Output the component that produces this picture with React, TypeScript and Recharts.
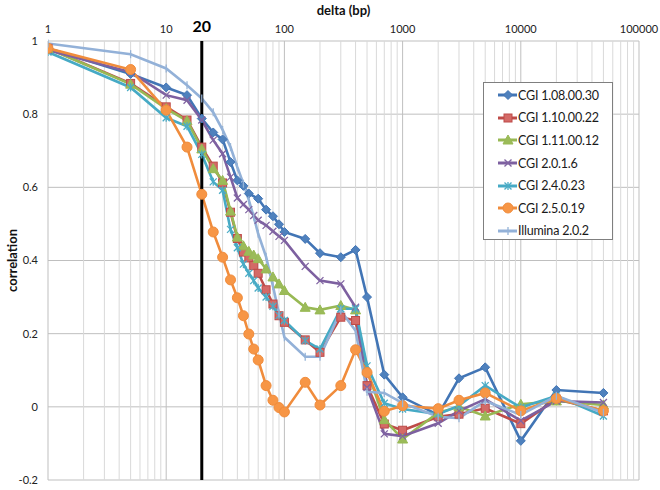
import { LineChart, Line, XAxis, YAxis, CartesianGrid, ReferenceLine, Legend } from "recharts";

const FONT = 'Lato, "Liberation Sans", sans-serif';

// delta (bp)
const deltas = [1, 5, 10, 15, 20, 25, 30, 35, 40, 45, 50, 55, 60, 70, 80, 90, 100, 150, 200, 300, 400, 500, 700, 1000, 2000, 3000, 5000, 10000, 20000, 50000];

const cgi10800 = [0.98, 0.91, 0.873, 0.852, 0.788, 0.75, 0.731, 0.669, 0.619, 0.604, 0.583, null, 0.569, 0.539, 0.521, 0.499, 0.478, 0.459, 0.42, 0.409, 0.429, 0.3, 0.088, 0.026, -0.022, 0.078, 0.108, -0.093, 0.046, 0.038];
const cgi11000 = [0.98, 0.884, 0.82, 0.784, 0.71, 0.658, 0.612, 0.532, 0.46, 0.423, 0.407, 0.386, 0.365, 0.32, 0.281, 0.249, 0.231, 0.183, 0.149, 0.245, 0.236, 0.058, -0.047, -0.064, -0.027, -0.02, -0.004, -0.046, 0.021, -0.011];
const cgi11100 = [0.98, 0.882, 0.815, 0.782, 0.705, 0.651, 0.619, 0.535, 0.464, 0.44, 0.425, 0.415, 0.405, 0.377, 0.355, 0.336, 0.318, 0.272, 0.265, 0.277, 0.265, 0.1, -0.035, -0.088, -0.016, 0, -0.025, 0.007, 0.016, 0.005];
const cgi2016 = [0.975, 0.915, 0.852, 0.838, 0.784, 0.729, 0.692, 0.628, 0.571, 0.553, 0.539, 0.523, 0.51, 0.496, 0.48, 0.466, 0.455, 0.384, 0.345, 0.336, 0.272, 0.053, -0.074, -0.08, -0.045, -0.011, 0.021, -0.038, 0.016, 0.012];
const cgi24023 = [0.97, 0.873, 0.79, 0.767, 0.69, 0.615, 0.592, 0.485, 0.435, 0.39, 0.365, 0.345, 0.325, 0.3, 0.275, 0.25, 0.236, 0.181, 0.158, 0.268, 0.268, 0.112, 0.01, -0.006, -0.02, 0.003, 0.058, -0.002, 0.03, -0.025];
const cgi25019 = [0.98, 0.922, 0.811, 0.71, 0.581, 0.478, 0.409, 0.347, 0.298, 0.249, 0.199, 0.158, 0.128, 0.058, 0.018, -0.002, -0.014, 0.067, 0.005, 0.058, 0.156, 0.094, -0.012, 0.003, -0.005, 0.018, 0.038, -0.011, 0.023, -0.011];
const illumina202 = [0.993, 0.964, 0.925, 0.879, 0.843, 0.805, 0.757, 0.71, 0.655, 0.61, 0.565, 0.52, 0.473, 0.41, 0.33, 0.255, 0.19, 0.137, 0.137, 0.263, 0.208, 0.041, 0.038, 0.01, -0.027, -0.031, 0.016, -0.022, 0.03, -0.016];

const xTicks = [1, 10, 100, 1000, 10000, 100000];
const yTicks = [-0.2, 0, 0.2, 0.4, 0.6, 0.8, 1];

const series = [
  { key: "s1", name: "CGI 1.08.00.30", values: cgi10800, color: "#4275B5", fill: "#4F81BD", marker: "diamond" },
  { key: "s2", name: "CGI 1.10.00.22", values: cgi11000, color: "#BE4B48", fill: "#D46A67", marker: "square" },
  { key: "s3", name: "CGI 1.11.00.12", values: cgi11100, color: "#98B954", fill: "#9BBB59", marker: "triangle" },
  { key: "s4", name: "CGI 2.0.1.6", values: cgi2016, color: "#7D60A0", fill: "#8064A2", marker: "x" },
  { key: "s5", name: "CGI 2.4.0.23", values: cgi24023, color: "#46AAC5", fill: "#4BACC6", marker: "star" },
  { key: "s6", name: "CGI 2.5.0.19", values: cgi25019, color: "#F08C3C", fill: "#F79646", marker: "circle" },
  { key: "s7", name: "Illumina 2.0.2", values: illumina202, color: "#93B1D8", fill: "#95B3D7", marker: "plus" },
];

const rows = deltas.map((d, i) => {
  const row: any = { delta: d };
  series.forEach((s) => (row[s.key] = s.values[i]));
  return row;
});

// minor log gridlines
const minorX: number[] = [];
[1, 10, 100, 1000, 10000].forEach((dec) => {
  for (let k = 2; k <= 9; k++) minorX.push(dec * k);
});

function Marker({ kind, cx, cy, fill, stroke }: any) {
  switch (kind) {
    case "diamond":
      return <polygon points={`${cx},${cy - 4.5} ${cx + 4.5},${cy} ${cx},${cy + 4.5} ${cx - 4.5},${cy}`} fill={fill} stroke={stroke} strokeWidth={1} />;
    case "square":
      return <rect x={cx - 4} y={cy - 4} width={8} height={8} fill={fill} stroke={stroke} strokeWidth={1} />;
    case "triangle":
      return <polygon points={`${cx},${cy - 5} ${cx + 5},${cy + 4} ${cx - 5},${cy + 4}`} fill={fill} stroke={stroke} strokeWidth={1} />;
    case "x":
      return (
        <g stroke={fill} strokeWidth={1.3}>
          <line x1={cx - 3.5} y1={cy - 3.5} x2={cx + 3.5} y2={cy + 3.5} />
          <line x1={cx - 3.5} y1={cy + 3.5} x2={cx + 3.5} y2={cy - 3.5} />
        </g>
      );
    case "star":
      return (
        <g stroke={fill} strokeWidth={1.3}>
          <line x1={cx - 3.5} y1={cy - 3.5} x2={cx + 3.5} y2={cy + 3.5} />
          <line x1={cx - 3.5} y1={cy + 3.5} x2={cx + 3.5} y2={cy - 3.5} />
          <line x1={cx} y1={cy - 4} x2={cx} y2={cy + 4} />
        </g>
      );
    case "circle":
      return <circle cx={cx} cy={cy} r={5} fill={fill} stroke={stroke} strokeWidth={1} />;
    default:
      return (
        <g stroke={fill} strokeWidth={1.3}>
          <line x1={cx} y1={cy - 4} x2={cx} y2={cy + 4} />
        </g>
      );
  }
}

function makeDot(s: any) {
  return (props: any) => {
    const { cx, cy, index } = props;
    if (cx == null || cy == null || isNaN(cy)) return <g key={index} />;
    return (
      <g key={index}>
        <Marker kind={s.marker} cx={cx} cy={cy} fill={s.fill} stroke={s.color} />
      </g>
    );
  };
}

function LegendBox() {
  return (
    <div
      style={{
        width: 128,
        height: 155,
        border: "1px solid #7F7F7F",
        background: "#fff",
        boxSizing: "content-box",
        paddingTop: 1,
        fontFamily: FONT,
        fontSize: 12.5,
        letterSpacing: -0.2,
        color: "#1a1a1a",
      }}
    >
      {series.map((s) => (
        <div key={s.key} style={{ display: "flex", alignItems: "center", height: 22.6, paddingLeft: 14 }}>
          <svg width={20} height={12} style={{ display: "block" }}>
            <line x1={0} y1={6} x2={19} y2={6} stroke={s.color} strokeWidth={3} />
            <Marker kind={s.marker} cx={10} cy={6} fill={s.fill} stroke={s.color} />
          </svg>
          <span style={{ whiteSpace: "nowrap" }}>{s.name}</span>
        </div>
      ))}
    </div>
  );
}

export default function App() {
  return (
    <div style={{ position: "absolute", left: 0, top: 0, width: 660, height: 490, background: "#fff" }}>
      <LineChart width={660} height={490} data={rows} margin={{ top: 5, right: 21, bottom: 10, left: 0 }}>
        <CartesianGrid stroke="#BFBFBF" strokeWidth={1} />
        {minorX.map((v) => (
          <ReferenceLine key={v} x={v} stroke="#D9D9D9" strokeWidth={1} />
        ))}
        <XAxis
          dataKey="delta"
          type="number"
          scale="log"
          domain={[1, 100000]}
          ticks={xTicks}
          orientation="top"
          height={36}
          axisLine={false}
          tickLine={false}
          tickSize={0}
          tickMargin={8}
          allowDataOverflow
          tick={{ fontSize: 11, fill: "#222", fontFamily: FONT }}
          label={{ value: "delta (bp)", position: "insideTop", offset: 1, fontSize: 13, fontWeight: "bold", fill: "#111", fontFamily: FONT }}
        />
        <YAxis
          type="number"
          domain={[-0.2, 1]}
          ticks={yTicks}
          width={48}
          axisLine={false}
          tickLine={false}
          tickSize={0}
          tickMargin={10}
          tick={{ fontSize: 11, fill: "#222", fontFamily: FONT }}
          label={{ value: "correlation", angle: -90, position: "insideLeft", offset: 12, fontSize: 13, fontWeight: "bold", fill: "#111", fontFamily: FONT, style: { textAnchor: "middle" } }}
        />
        {series.map((s) => (
          <Line
            key={s.key}
            dataKey={s.key}
            name={s.name}
            type="linear"
            stroke={s.color}
            strokeWidth={2.6}
            dot={makeDot(s)}
            activeDot={false}
            connectNulls
            isAnimationActive={false}
          />
        ))}
        <ReferenceLine
          x={20}
          stroke="#000"
          strokeWidth={3}
          label={{ value: "20", position: "top", offset: 9, fontSize: 16, fontWeight: "bold", fill: "#000", fontFamily: FONT }}
        />
        <Legend
          layout="vertical"
          align="center"
          verticalAlign="middle"
          content={() => <LegendBox />}
          wrapperStyle={{ left: 483, top: 82, width: 130 }}
        />
      </LineChart>
    </div>
  );
}
